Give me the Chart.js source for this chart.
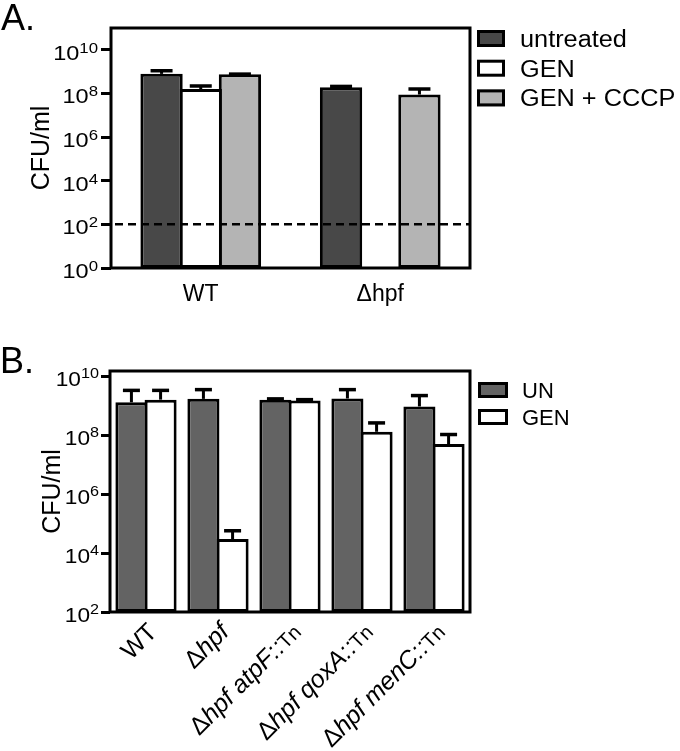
<!DOCTYPE html>
<html>
<head>
<meta charset="utf-8">
<script src="https://cdn.jsdelivr.net/npm/chart.js@4.4.0/dist/chart.umd.min.js"></script>
<style>
html,body{margin:0;padding:0;background:#fff;}
#wrapA{position:absolute;left:0;top:0;width:680px;height:335px;}
#wrapB{position:absolute;left:0;top:335px;width:680px;height:416px;}
canvas{display:block;}
</style>
</head>
<body>
<div id="wrapA"><canvas id="chartA" width="680" height="335"></canvas></div>
<div id="wrapB"><canvas id="chartB" width="680" height="416"></canvas></div>
<script>
const FONT = "'Liberation Sans', Arial, Helvetica, sans-serif";

// ---------- Panel A data ----------
const categoriesA = ['WT', 'Δhpf'];
const seriesNamesA = ['untreated', 'GEN', 'GEN + CCCP'];
const untreatedA = [7.9e8, 1.9e8];
const genA = [1.6e8, null];
const genCcpA = [7.6e8, 8.9e7];
const untreatedUpperA = [1.1e9, 2.1e8];
const genUpperA = [2.2e8, null];
const genCcpUpperA = [7.7e8, 1.6e8];
const detectionLimitA = 100;
const yTicksA = [1, 1e2, 1e4, 1e6, 1e8, 1e10];

// ---------- Panel B data ----------
const categoriesB = ['WT', 'Δhpf', 'Δhpf atpF::Tn', 'Δhpf qoxA::Tn', 'Δhpf menC::Tn'];
const seriesNamesB = ['UN', 'GEN'];
const unB = [1.3e9, 1.7e9, 1.6e9, 1.75e9, 9.4e8];
const genB = [1.6e9, 3.0e4, 1.5e9, 1.3e8, 5.0e7];
const unUpperB = [3.3e9, 3.5e9, 1.7e9, 3.5e9, 2.2e9];
const genUpperB = [3.3e9, 5.7e4, 1.6e9, 2.6e8, 1.05e8];
const yTicksB = [1e2, 1e4, 1e6, 1e8, 1e10];

function drawStretched(ctx, str, x, y, sx, align) {
  ctx.save();
  ctx.translate(x, y);
  ctx.scale(sx, 1);
  ctx.textAlign = align || 'left';
  ctx.fillText(str, 0, 0);
  ctx.restore();
}

const panelPlugin = {
  id: 'panel',
  afterDatasetsDraw(chart, args, o) {
    const ctx = chart.ctx;
    const ca = chart.chartArea;
    const ys = chart.scales.y;
    ctx.save();
    ctx.fillStyle = '#000';
    ctx.strokeStyle = '#000';

    // detection limit dashed line
    if (o.limit != null) {
      const ly = ys.getPixelForValue(o.limit);
      ctx.lineWidth = 2.5;
      ctx.setLineDash([8, 5]);
      ctx.beginPath();
      ctx.moveTo(ca.left - 9, ly);
      ctx.lineTo(ca.right, ly);
      ctx.stroke();
      ctx.setLineDash([]);
    }

    // error bars (upper only)
    ctx.lineCap = 'butt';
    o.uppers.forEach((arr, di) => {
      const meta = chart.getDatasetMeta(di);
      meta.data.forEach((bar, i) => {
        const v = chart.data.datasets[di].data[i];
        const up = arr[i];
        if (v == null || up == null) return;
        const ey = ys.getPixelForValue(up);
        ctx.lineWidth = 3;
        ctx.beginPath();
        ctx.moveTo(bar.x, bar.y);
        ctx.lineTo(bar.x, ey);
        ctx.stroke();
        ctx.lineWidth = 3.5;
        ctx.beginPath();
        ctx.moveTo(bar.x - o.cap / 2, ey);
        ctx.lineTo(bar.x + o.cap / 2, ey);
        ctx.stroke();
      });
    });

    // frame
    ctx.lineWidth = 3;
    ctx.strokeRect(ca.left, ca.top, ca.right - ca.left, ca.bottom - ca.top);

    // y tick labels 10^n
    ys.ticks.forEach(t => {
      const py = ys.getPixelForValue(t.value);
      const e = String(Math.round(Math.log10(t.value)));
      const xr = ca.left - o.labelGap;
      ctx.textBaseline = 'alphabetic';
      ctx.font = o.expSize + 'px ' + FONT;
      const ew = ctx.measureText(e).width * o.sx;
      drawStretched(ctx, e, xr, py + o.expDy, o.sx, 'right');
      ctx.font = o.mainSize + 'px ' + FONT;
      drawStretched(ctx, '10', xr - ew, py + o.mainDy, o.sx, 'right');
    });

    // legend
    const L = o.legend;
    chart.data.datasets.forEach((ds, i) => {
      const cy = L.y0 + i * L.dy;
      ctx.fillStyle = ds.backgroundColor;
      ctx.fillRect(L.x, cy - L.h / 2, L.w, L.h);
      ctx.lineWidth = 3;
      ctx.strokeStyle = '#000';
      ctx.strokeRect(L.x + 1.5, cy - L.h / 2 + 1.5, L.w - 3, L.h - 3);
      ctx.fillStyle = '#000';
      ctx.font = L.size + 'px ' + FONT;
      ctx.textBaseline = 'alphabetic';
      drawStretched(ctx, ds.label, L.tx, cy + L.base, L.sx, 'left');
    });

    // panel letter
    ctx.font = o.letterSize + 'px ' + FONT;
    ctx.textBaseline = 'alphabetic';
    ctx.textAlign = 'left';
    ctx.fillText(o.letter, o.letterX, o.letterY);

    // rich rotated x labels (panel B)
    if (o.richLabels) {
      const xs = chart.scales.x;
      chart.data.labels.forEach((lab, i) => {
        const segs = labelSegments(lab);
        let total = 0;
        segs.forEach(s => { ctx.font = s.font; s.w = ctx.measureText(s.t).width; total += s.w; });
        const ax = xs.getPixelForValue(i) + 6;
        const ay = ca.bottom + 15;
        ctx.save();
        ctx.translate(ax, ay);
        ctx.rotate(-Math.PI / 4);
        ctx.textAlign = 'left';
        ctx.textBaseline = 'alphabetic';
        let x = -total;
        segs.forEach(s => { ctx.font = s.font; ctx.fillText(s.t, x, 9); x += s.w; });
        ctx.restore();
      });
    }
    ctx.restore();
  }
};

function labelSegments(lab) {
  const big = '25px ' + FONT;
  const ital = 'italic 25px ' + FONT;
  const small = '20px ' + FONT;
  if (lab.charAt(0) !== 'Δ') return [{t: lab, font: big}];
  const segs = [{t: 'Δ', font: big}];
  const rest = lab.slice(1);
  const k = rest.indexOf('::');
  if (k >= 0) {
    segs.push({t: rest.slice(0, k + 2), font: ital});
    segs.push({t: rest.slice(k + 2), font: small});
  } else {
    segs.push({t: rest, font: ital});
  }
  return segs;
}

function barDs(label, data, color, bp, cp) {
  return {
    label: label, data: data, backgroundColor: color, borderColor: '#000',
    borderWidth: 3, borderSkipped: false, barPercentage: bp, categoryPercentage: cp
  };
}

// ---------- Chart A ----------
new Chart(document.getElementById('chartA'), {
  type: 'bar',
  data: {
    labels: categoriesA,
    datasets: [
      barDs(seriesNamesA[0], untreatedA, '#484848', 1.08, 0.655),
      barDs(seriesNamesA[1], genA, '#ffffff', 1.08, 0.655),
      barDs(seriesNamesA[2], genCcpA, '#b4b4b4', 1.08, 0.655)
    ]
  },
  options: {
    responsive: false, animation: false,
    layout: {padding: {left: 0, top: 28, right: 210, bottom: 0}},
    plugins: {
      legend: {display: false}, tooltip: {enabled: false},
      panel: {
        limit: detectionLimitA,
        uppers: [untreatedUpperA, genUpperA, genCcpUpperA],
        cap: 22, labelGap: 13, mainSize: 21, expSize: 15, sx: 1.12, mainDy: 10, expDy: 3,
        legend: {x: 477, w: 28, h: 17, y0: 38.5, dy: 29.7, tx: 520, size: 23, sx: 1.1, base: 8.5},
        letter: 'A.', letterSize: 36, letterX: 1, letterY: 30
      }
    },
    scales: {
      x: {
        grid: {display: false, drawTicks: false}, border: {display: false},
        ticks: {color: '#000', font: {family: FONT, size: 23}, padding: 13, maxRotation: 0, autoSkip: false},
        afterFit(s) { s.height = 67; }
      },
      y: {
        type: 'logarithmic', min: 1, max: 1e11,
        afterBuildTicks(s) { s.ticks = yTicksA.map(v => ({value: v})); },
        ticks: {display: false},
        grid: {drawOnChartArea: false, drawTicks: true, tickLength: 10, lineWidth: 3, color: '#000'},
        border: {display: false},
        title: {display: true, text: 'CFU/ml', color: '#000', font: {family: FONT, size: 25}, padding: {top: 27, bottom: 0}},
        afterFit(s) { s.width = 111; }
      }
    }
  },
  plugins: [panelPlugin]
});

// ---------- Chart B ----------
new Chart(document.getElementById('chartB'), {
  type: 'bar',
  data: {
    labels: categoriesB,
    datasets: [
      barDs(seriesNamesB[0], unB, '#636363', 1.1, 0.81),
      barDs(seriesNamesB[1], genB, '#ffffff', 1.1, 0.81)
    ]
  },
  options: {
    responsive: false, animation: false,
    layout: {padding: {left: 0, top: 36, right: 210, bottom: 0}},
    plugins: {
      legend: {display: false}, tooltip: {enabled: false},
      panel: {
        limit: null,
        uppers: [unUpperB, genUpperB],
        cap: 17, labelGap: 11, mainSize: 21, expSize: 15, sx: 1.08, mainDy: 10, expDy: 2,
        legend: {x: 478, w: 30, h: 16, y0: 55, dy: 27, tx: 522, size: 22, sx: 1.0, base: 8.3},
        letter: 'B.', letterSize: 36, letterX: 0, letterY: 38,
        richLabels: true
      }
    },
    scales: {
      x: {
        grid: {display: false, drawTicks: false}, border: {display: false},
        ticks: {display: false},
        afterFit(s) { s.height = 139; }
      },
      y: {
        type: 'logarithmic', min: 1e2, max: 1.5e10,
        afterBuildTicks(s) { s.ticks = yTicksB.map(v => ({value: v})); },
        ticks: {display: false},
        grid: {drawOnChartArea: false, drawTicks: true, tickLength: 9, lineWidth: 3, color: '#000'},
        border: {display: false},
        title: {display: true, text: 'CFU/ml', color: '#000', font: {family: FONT, size: 25}, padding: {top: 38, bottom: 0}},
        afterFit(s) { s.width = 110; }
      }
    }
  },
  plugins: [panelPlugin]
});
</script>
</body>
</html>
